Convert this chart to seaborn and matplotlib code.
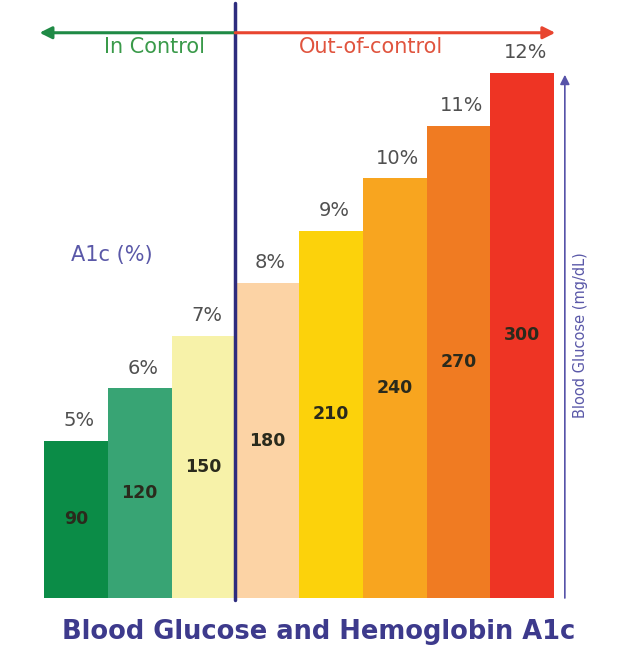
import pandas as pd
import matplotlib.pyplot as plt
import seaborn as sns

a1c_labels = ['5%', '6%', '7%', '8%', '9%', '10%', '11%', '12%']
glucose = [90, 120, 150, 180, 210, 240, 270, 300]
bar_colors = ['#0b8c47', '#38a474', '#f7f2a9', '#fcd3a5', '#fcd20b',
              '#f8a51f', '#f07b22', '#ee3424']

df = pd.DataFrame({'A1c': a1c_labels, 'Glucose': glucose})

sns.set_style('white')
plt.rcParams['font.family'] = ['DejaVu Sans']

fig = plt.figure(figsize=(6.31, 6.67), dpi=100)
# axes placed so that bars span the same pixels as the reference
ax = fig.add_axes([44 / 631, 69 / 667, 510 / 631, 595 / 667])

sns.barplot(data=df, x='A1c', y='Glucose', hue='A1c', palette=bar_colors,
            width=1, saturation=1, legend=False, linewidth=0, ax=ax)

ax.set_xlim(-0.5, 7.5)
ax.set_ylim(0, 340)
ax.axis('off')

# labels on and above the bars
for i, (lab, g) in enumerate(zip(a1c_labels, glucose)):
    ax.text(i + 0.05, g + 6, lab, ha='center', va='bottom', fontsize=14,
            color='#505050', clip_on=False)
    ax.text(i, g / 2, str(g), ha='center', va='center', fontsize=12.5,
            fontweight='bold', color='#2a2a1c')

# divider between in control / out of control
ax.plot([2.5, 2.5], [-1, 340], color='#2e2c7e', lw=2.5, clip_on=False)

# top arrows
ax.annotate('', xy=(-0.57, 323), xytext=(2.5, 323),
            arrowprops=dict(arrowstyle='-|>', color='#1f8a45', lw=2.2,
                            mutation_scale=18, shrinkA=0, shrinkB=0),
            annotation_clip=False)
ax.annotate('', xy=(7.52, 323), xytext=(2.5, 323),
            arrowprops=dict(arrowstyle='-|>', color='#e8452f', lw=2.2,
                            mutation_scale=18, shrinkA=0, shrinkB=0),
            annotation_clip=False)
ax.text(1.24, 315, 'In Control', ha='center', va='center', fontsize=15,
        color='#3a9a4a')
ax.text(4.63, 315, 'Out-of-control', ha='center', va='center', fontsize=15,
        color='#e0543e')

# right glucose axis arrow
ax.annotate('', xy=(7.67, 299), xytext=(7.67, 0),
            arrowprops=dict(arrowstyle='-|>', color='#5753a8', lw=1.2,
                            mutation_scale=14, shrinkA=0, shrinkB=0),
            annotation_clip=False)
ax.text(7.92, 150, 'Blood Glucose (mg/dL)', rotation=90, ha='center',
        va='center', fontsize=10.5, color='#5a58a8', clip_on=False)

ax.text(0.57, 196, 'A1c (%)', ha='center', va='center', fontsize=15,
        color='#5a58a8')

fig.text(0.505, 1 - 632 / 667, 'Blood Glucose and Hemoglobin A1c',
         ha='center', va='center', fontsize=18.5, fontweight='bold',
         color='#3d3a8c')

fig.savefig('out.png', dpi=100)
